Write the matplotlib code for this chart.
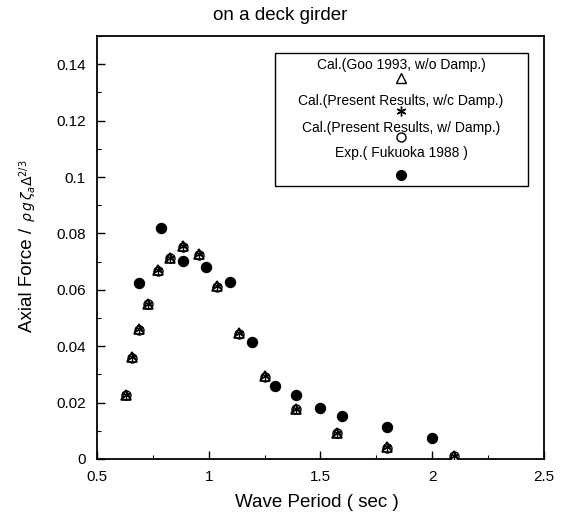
import matplotlib
matplotlib.use("Agg")
import matplotlib.pyplot as plt
from matplotlib.ticker import FuncFormatter, MultipleLocator
from matplotlib.patches import Rectangle

plt.rcParams['font.family'] = ['Liberation Sans', 'DejaVu Sans']

# Calculated results (Goo 1993 / present results) - markers overlap
cal_period = [0.63, 0.658, 0.69, 0.727, 0.775, 0.828, 0.886, 0.958, 1.039, 1.136,
              1.251, 1.389, 1.575, 1.797, 2.096]
cal_goo = [0.0228, 0.036, 0.046, 0.055, 0.067, 0.0714, 0.0755, 0.0727, 0.0613, 0.0447,
           0.0293, 0.0178, 0.0093, 0.0041, 0.001]
cal_wo_damp = [0.0228, 0.036, 0.046, 0.055, 0.067, 0.0714, 0.0755, 0.0727, 0.0613, 0.0447,
               0.0293, 0.0178, 0.0093, 0.0041, 0.001]
cal_w_damp = [0.0226, 0.0358, 0.0458, 0.0548, 0.0668, 0.0712, 0.0752, 0.0724, 0.0611, 0.0445,
              0.0291, 0.0176, 0.0091, 0.0039, 0.0009]

# Experiment (Fukuoka 1988)
exp_period = [0.69, 0.787, 0.886, 0.986, 1.096, 1.195, 1.295, 1.389, 1.496, 1.596, 1.797, 2.0]
exp_force = [0.0625, 0.082, 0.0702, 0.068, 0.0626, 0.0415, 0.0258, 0.0228, 0.018, 0.0151,
             0.0114, 0.0076]

legend_labels = ['Cal.(Goo 1993, w/o Damp.)', 'Cal.(Present Results, w/c Damp.)',
                 'Cal.(Present Results, w/ Damp.)', 'Exp.( Fukuoka 1988 )']

fig = plt.figure(figsize=(5.64, 5.18), dpi=100)
ax = fig.add_axes([0.172, 0.1139, 0.7925, 0.8166])

asterisk = (6, 2, 0)
ax.plot(cal_period, cal_w_damp, linestyle='none', marker='o', ms=6.5, mfc='white',
        mec='black', mew=1.0, zorder=3)
ax.plot(cal_period, cal_goo, linestyle='none', marker='^', ms=7.5, mfc='none',
        mec='black', mew=1.2, zorder=4)
ax.plot(cal_period, cal_wo_damp, linestyle='none', marker=asterisk, ms=6, mfc='none',
        mec='black', mew=0.9, zorder=5)
ax.plot(exp_period, exp_force, linestyle='none', marker='o', ms=7.2, mfc='black',
        mec='black', zorder=6)

ax.set_xlim(0.5, 2.5)
ax.set_ylim(0, 0.15)
ax.set_xticks([0.5, 1, 1.5, 2, 2.5])
ax.set_yticks([0, 0.02, 0.04, 0.06, 0.08, 0.1, 0.12, 0.14])
ax.xaxis.set_minor_locator(MultipleLocator(0.25))
ax.yaxis.set_minor_locator(MultipleLocator(0.01))
fmt = FuncFormatter(lambda v, p: '%g' % v)
ax.xaxis.set_major_formatter(fmt)
ax.yaxis.set_major_formatter(fmt)
ax.tick_params(which='both', direction='in', top=False, right=False, labelsize=11)
ax.tick_params(axis='y', which='major', pad=8)
ax.tick_params(axis='x', which='major', pad=8)
ax.tick_params(which='major', length=6, width=1)
ax.tick_params(which='minor', length=3, width=0.8)
for s in ax.spines.values():
    s.set_linewidth(1.3)

fig.text(0.5625, 0.029, 'Wave Period ( sec )', ha='center', va='center', fontsize=13.5)
fig.text(0.048, 0.459, 'Axial Force /', ha='center', va='center', fontsize=13.5,
         rotation=90)
fig.text(0.050, 0.632, r'$\rho\, g\, \zeta_a \Delta^{2/3}$', ha='center', va='center',
         fontsize=10, rotation=90)
fig.text(0.496, 0.971, 'on a deck girder', ha='center', va='center', fontsize=13.5)

# Custom legend: label above marker, inside a box
ax.add_patch(Rectangle((0.398, 0.645), 0.566, 0.315, transform=ax.transAxes,
                       fill=False, ec='black', lw=1.0, zorder=7))
cx = 0.680
text_y = [0.931, 0.846, 0.782, 0.723]
mark_y = [0.901, 0.823, 0.761, 0.671]
for t, ty in zip(legend_labels, text_y):
    ax.text(cx, ty, t, transform=ax.transAxes, ha='center', va='center', fontsize=10)
ax.plot([cx], [mark_y[0]], transform=ax.transAxes, marker='^', ms=7.5, mfc='none',
        mec='black', mew=1.0, linestyle='none')
ax.plot([cx], [mark_y[1]], transform=ax.transAxes, marker=asterisk, ms=7, mfc='none',
        mec='black', mew=1.0, linestyle='none')
ax.plot([cx], [mark_y[2]], transform=ax.transAxes, marker='o', ms=6.5, mfc='white',
        mec='black', mew=1.0, linestyle='none')
ax.plot([cx], [mark_y[3]], transform=ax.transAxes, marker='o', ms=7, mfc='black',
        mec='black', linestyle='none')

fig.savefig('out.png', dpi=100)
